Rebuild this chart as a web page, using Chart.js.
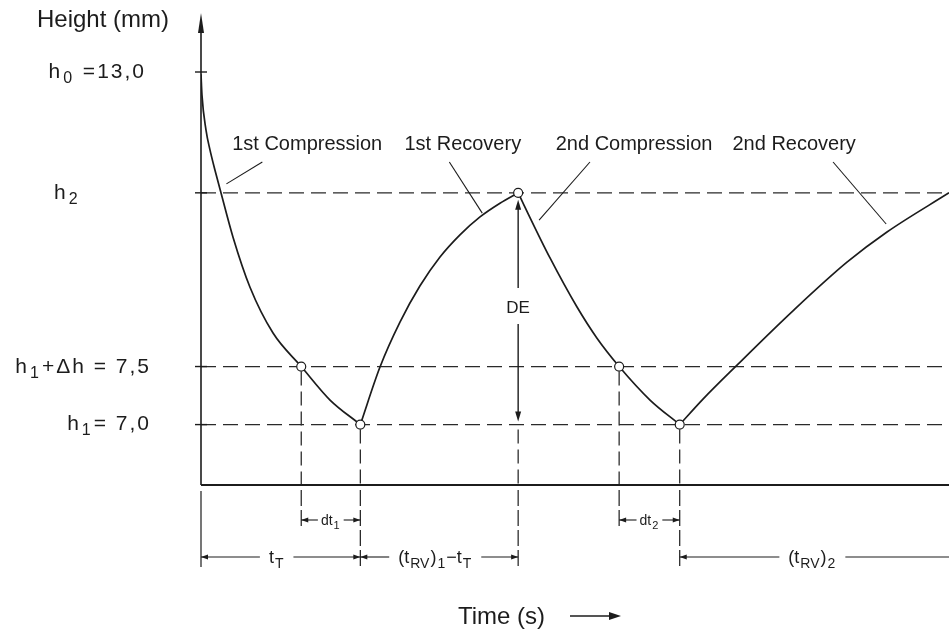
<!DOCTYPE html>
<html>
<head>
<meta charset="utf-8">
<script src="https://cdn.jsdelivr.net/npm/chart.js@4.4.1/dist/chart.umd.min.js"></script>
<style>
  html, body { margin: 0; padding: 0; background: #fff; }
  #wrap { width: 949px; height: 630px; }
</style>
</head>
<body>
<div id="wrap"><canvas id="chart" width="949" height="630"></canvas></div>
<script>
// Schematic units: time 0-100 across the plot, height 0-100 up the plot (not to scale)
const levelLabels = ['h_0 =13,0', 'h_2', 'h_1+Δh = 7,5', 'h_1= 7,0'];
const levelValues = [87.5, 61.9, 25.1, 12.8];

// 1st compression
const comp1X = [0, 0.13, 0.67, 1.2, 1.87, 2.67, 4.28, 6.55, 9.63, 13.4, 17.25, 21.3];
const comp1Y = [87.0, 82.6, 75.2, 71.0, 66.7, 61.9, 52.5, 41.9, 32.2, 25.1, 18.0, 12.8];
// 1st recovery
const rec1X = [21.3, 23.93, 26.6, 29.28, 31.95, 34.62, 37.3, 39.97, 42.4];
const rec1Y = [12.8, 25.0, 34.5, 42.2, 48.3, 53.0, 56.8, 59.7, 61.9];
// 2nd compression
const comp2X = [42.4, 43.18, 46.66, 50.27, 52.94, 55.9, 60.03, 64.0];
const comp2Y = [61.9, 59.3, 48.1, 37.7, 31.1, 25.1, 18.0, 12.8];
// 2nd recovery
const rec2X = [64.0, 67.11, 71.66, 79.14, 86.36, 91.71, 100];
const rec2Y = [12.8, 18.2, 25.4, 36.9, 47.2, 53.6, 61.9];

// open circles
const markerX = [13.4, 21.3, 42.4, 55.9, 64.0];
const markerY = [25.1, 12.8, 61.9, 25.1, 12.8];

const phaseLabels = ['1st Compression', '1st Recovery', '2nd Compression', '2nd Recovery'];
const phaseLabelX = [14.2, 35.0, 57.9, 79.3];
const leaderFromX = [8.2, 33.2, 52.0, 84.5];
const leaderToX = [3.4, 37.6, 45.2, 91.6];
const leaderToY = [63.8, 57.6, 56.1, 55.3];

const spanLabels = ['dt_1', 't_T', '(t_{RV})_1−t_T', 'dt_2', '(t_{RV})_2'];

const INK = '#1c1c1c';
const FONT = '"Liberation Sans", Arial, sans-serif';

function pts(xs, ys) { return xs.map((x, i) => ({ x: x, y: ys[i] })); }

// text with _x / _{xy} subscripts, y is baseline
function richText(ctx, str, x, y, size, align) {
  const parts = [];
  const re = /_\{([^}]*)\}|_(.)|([^_]+)/g;
  let m;
  while ((m = re.exec(str))) {
    if (m[1] !== undefined) parts.push({ t: m[1], sub: true });
    else if (m[2] !== undefined) parts.push({ t: m[2], sub: true });
    else parts.push({ t: m[3], sub: false });
  }
  const subSize = Math.round(size * 0.75);
  let w = 0;
  parts.forEach(p => {
    ctx.font = (p.sub ? subSize : size) + 'px ' + FONT;
    p.w = ctx.measureText(p.t).width + (p.sub ? 2 : 0);
    w += p.w;
  });
  let cx = align === 'center' ? x - w / 2 : align === 'right' ? x - w : x;
  ctx.textAlign = 'left';
  ctx.textBaseline = 'alphabetic';
  parts.forEach(p => {
    ctx.font = (p.sub ? subSize : size) + 'px ' + FONT;
    ctx.fillText(p.t, cx + (p.sub ? 1 : 0), y + (p.sub ? size * 0.25 : 0));
    cx += p.w;
  });
  return w;
}

function arrowHead(ctx, x, y, dir, len, half) {
  ctx.beginPath();
  if (dir === 'left') { ctx.moveTo(x, y); ctx.lineTo(x + len, y - half); ctx.lineTo(x + len, y + half); }
  if (dir === 'right') { ctx.moveTo(x, y); ctx.lineTo(x - len, y - half); ctx.lineTo(x - len, y + half); }
  if (dir === 'up') { ctx.moveTo(x, y); ctx.lineTo(x - half, y + len); ctx.lineTo(x + half, y + len); }
  if (dir === 'down') { ctx.moveTo(x, y); ctx.lineTo(x - half, y - len); ctx.lineTo(x + half, y - len); }
  ctx.closePath();
  ctx.fill();
}

function line(ctx, x1, y1, x2, y2, dash) {
  ctx.setLineDash(dash || []);
  ctx.beginPath();
  ctx.moveTo(x1, y1);
  ctx.lineTo(x2, y2);
  ctx.stroke();
  ctx.setLineDash([]);
}

function span(ctx, x1, x2, y, label, size, openRight) {
  const mid = openRight ? (x1 + x2) / 2 - 2 : (x1 + x2) / 2 - (size > 15 ? 4 : 0);
  const w = richText(ctx, label, mid, y + size * 0.36, size, 'center');
  const gap = size > 15 ? 9 : 3;
  line(ctx, x1, y, mid - w / 2 - gap, y);
  line(ctx, mid + w / 2 + gap, y, x2, y);
  arrowHead(ctx, x1, y, 'left', 7, 2.5);
  if (!openRight) arrowHead(ctx, x2, y, 'right', 7, 2.5);
}

const schematic = {
  id: 'schematic',
  beforeDatasetsDraw(chart) {
    const ctx = chart.ctx;
    const xs = chart.scales.x, ys = chart.scales.y;
    const a = chart.chartArea;
    ctx.save();
    ctx.strokeStyle = INK;
    ctx.fillStyle = INK;
    ctx.lineWidth = 1.2;
    // vertical guides from the markers down past the time axis
    markerX.forEach((mx, i) => {
      const px = xs.getPixelForValue(mx);
      const top = i === 2 ? ys.getPixelForValue(levelValues[3]) : ys.getPixelForValue(markerY[i]);
      line(ctx, px, top + 5, px, a.bottom, [14, 6]);
      const end = (i === 0 || i === 3) ? a.bottom + 43 : a.bottom + 82;
      line(ctx, px, a.bottom + 5, px, end, [16, 4]);
    });
    line(ctx, a.left, a.bottom + 6, a.left, a.bottom + 82);
    ctx.restore();
  },
  afterDatasetsDraw(chart) {
    const ctx = chart.ctx;
    const xs = chart.scales.x, ys = chart.scales.y;
    const a = chart.chartArea;
    const X = v => xs.getPixelForValue(v);
    const Y = v => ys.getPixelForValue(v);
    ctx.save();
    ctx.strokeStyle = INK;
    ctx.fillStyle = INK;

    // axes
    ctx.lineWidth = 1.6;
    line(ctx, a.left, a.bottom, a.left, a.top + 14);
    arrowHead(ctx, a.left, a.top, 'up', 20, 3);
    ctx.lineWidth = 2;
    line(ctx, a.left, a.bottom, a.right, a.bottom);

    // y ticks and labels
    ctx.lineWidth = 1.4;
    const labelPos = [[146, 'right', 78], [54, 'left', 199], [151, 'right', 373], [151, 'right', 430]];
    levelValues.forEach((v, i) => {
      const py = Y(v);
      line(ctx, a.left - 6, py, a.left + 6, py);
      ctx.letterSpacing = '2px';
      richText(ctx, levelLabels[i], labelPos[i][0], labelPos[i][2], 21, labelPos[i][1]);
      ctx.letterSpacing = '0px';
    });
    ctx.font = '24px ' + FONT;
    ctx.textAlign = 'left';
    ctx.fillText('Height (mm)', 37, 27);

    // phase labels with leader lines
    ctx.lineWidth = 1.1;
    phaseLabels.forEach((t, i) => {
      ctx.font = '20px ' + FONT;
      ctx.textAlign = 'center';
      ctx.fillText(t, X(phaseLabelX[i]), 150);
      line(ctx, X(leaderFromX[i]), 162, X(leaderToX[i]), Y(leaderToY[i]));
    });

    // DE arrow between h1 and h2
    const dx = X(markerX[2]);
    const yTop = Y(levelValues[1]) + 7, yBot = Y(levelValues[3]) - 3;
    ctx.lineWidth = 1.4;
    line(ctx, dx, yTop + 8, dx, 288);
    line(ctx, dx, 324, dx, yBot - 8);
    arrowHead(ctx, dx, yTop, 'up', 10, 3);
    arrowHead(ctx, dx, yBot, 'down', 10, 3);
    ctx.font = '17px ' + FONT;
    ctx.textAlign = 'center';
    ctx.fillText('DE', dx, 313);

    // time spans under the axis
    ctx.lineWidth = 1.1;
    const r1 = a.bottom + 35, r2 = a.bottom + 72;
    const mp = markerX.map(X);
    span(ctx, mp[0], mp[1], r1, spanLabels[0], 14, false);
    span(ctx, a.left, mp[1], r2, spanLabels[1], 18, false);
    span(ctx, mp[1], mp[2], r2, spanLabels[2], 18, false);
    span(ctx, mp[3], mp[4], r1, spanLabels[3], 14, false);
    span(ctx, mp[4], a.right, r2, spanLabels[4], 18, true);

    // time axis title
    ctx.font = '24px ' + FONT;
    ctx.textAlign = 'left';
    ctx.fillText('Time (s)', 458, 624);
    ctx.lineWidth = 1.3;
    line(ctx, 570, 616, 610, 616);
    arrowHead(ctx, 621, 616, 'right', 12, 4);
    ctx.restore();
  }
};

const curveStyle = {
  showLine: true, pointRadius: 0, borderColor: INK, borderWidth: 1.7,
  tension: 0.4, cubicInterpolationMode: 'monotone', fill: false
};
const dashStyle = {
  showLine: true, pointRadius: 0, borderColor: '#2a2a2a', borderWidth: 1.2,
  borderDash: [15, 7], fill: false
};

new Chart(document.getElementById('chart'), {
  type: 'scatter',
  data: {
    datasets: [
      { label: 'markers', data: pts(markerX, markerY), showLine: false, pointRadius: 4.5,
        pointBackgroundColor: '#fff', pointBorderColor: INK, pointBorderWidth: 1.2 },
      Object.assign({ label: '1st Compression', data: pts(comp1X, comp1Y) }, curveStyle),
      Object.assign({ label: '1st Recovery', data: pts(rec1X, rec1Y) }, curveStyle),
      Object.assign({ label: '2nd Compression', data: pts(comp2X, comp2Y) }, curveStyle),
      Object.assign({ label: '2nd Recovery', data: pts(rec2X, rec2Y) }, curveStyle),
      Object.assign({ label: 'h2', data: pts([0, 100], [levelValues[1], levelValues[1]]) }, dashStyle),
      Object.assign({ label: 'h1+dh', data: pts([0, 100], [levelValues[2], levelValues[2]]) }, dashStyle),
      Object.assign({ label: 'h1', data: pts([0, 100], [levelValues[3], levelValues[3]]) }, dashStyle)
    ]
  },
  options: {
    responsive: false,
    animation: false,
    devicePixelRatio: 1,
    layout: { autoPadding: false, padding: { left: 201, right: 0, top: 13, bottom: 145 } },
    plugins: { legend: { display: false }, tooltip: { enabled: false } },
    scales: {
      x: { type: 'linear', min: 0, max: 100, display: false },
      y: { type: 'linear', min: 0, max: 100, display: false }
    }
  },
  plugins: [schematic]
});
</script>
</body>
</html>
